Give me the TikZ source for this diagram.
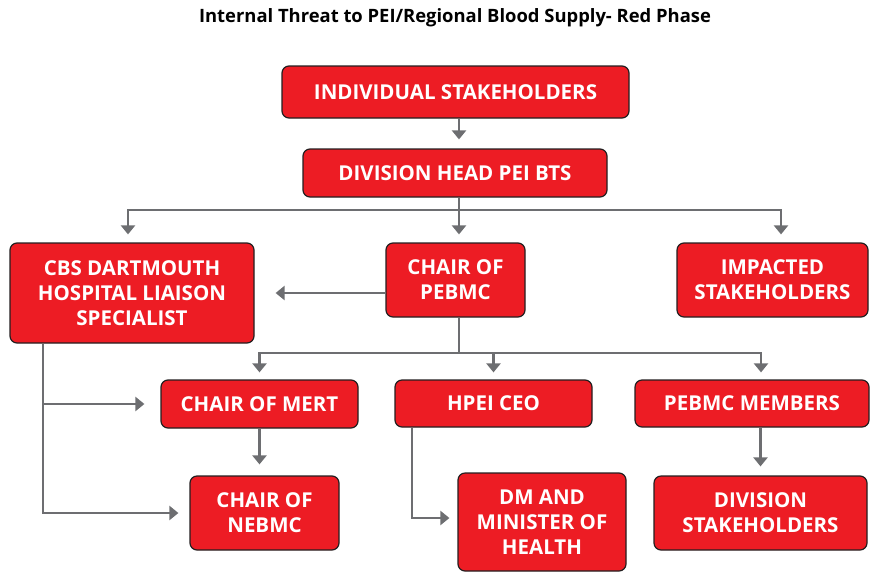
\documentclass[tikz,border=0pt]{standalone}
\usepackage{fontspec}
\setmainfont{Open Sans}
\usetikzlibrary{arrows.meta}

\definecolor{boxred}{HTML}{ED1C24}
\definecolor{boxline}{HTML}{231F20}
\definecolor{linkgray}{HTML}{6D6E71}

\tikzset{
	box/.style={draw=boxline, fill=boxred, line width=1.2pt, rounded corners=7pt,
		text=white, font=\bfseries\fontsize{20.5}{25}\selectfont, align=center, inner sep=0pt},
	link/.style={color=linkgray, line width=2.8pt, -{Triangle[width=14pt,length=9pt]}, shorten >=8pt}
}

\begin{document}
\begin{tikzpicture}[x=1pt,y=-1pt]
				\useasboundingbox (0,0) rectangle (874,573);
				\node[font=\bfseries\fontsize{18.4}{22}\selectfont] (title) at (455,18)
					{Internal Threat to PEI/Regional Blood Supply- Red Phase};

				% boxes
				\node[box, minimum width=347pt, minimum height=52pt] (ind) at (455.5,92) {INDIVIDUAL STAKEHOLDERS};
				\node[box, minimum width=304pt, minimum height=48pt] (head) at (455,173) {DIVISION HEAD PEI BTS};
				\node[box, minimum width=244pt, minimum height=100pt] (cbs) at (132,293) {CBS DARTMOUTH\\HOSPITAL LIAISON\\SPECIALIST};
				\node[box, minimum width=139pt, minimum height=74pt] (pebmc) at (455.5,280) {CHAIR OF\\PEBMC};
				\node[box, minimum width=191pt, minimum height=74pt] (imp) at (772.5,280) {IMPACTED\\STAKEHOLDERS};
				\node[box, minimum width=197pt, minimum height=48pt] (mert) at (259.5,404) {CHAIR OF MERT};
				\node[box, minimum width=197pt, minimum height=47pt] (hpei) at (493.5,403.5) {HPEI CEO};
				\node[box, minimum width=234pt, minimum height=47pt] (memb) at (752,403.5) {PEBMC MEMBERS};
				\node[box, minimum width=149pt, minimum height=74pt] (nebmc) at (264.5,513) {CHAIR OF\\NEBMC};
				\node[box, minimum width=168pt, minimum height=98pt] (dm) at (542,522) {DM AND\\MINISTER OF\\HEALTH};
				\node[box, minimum width=213pt, minimum height=74pt] (div) at (760.5,513) {DIVISION\\STAKEHOLDERS};

				% bend points
				\coordinate (spine) at (459,210);
				\coordinate (fanL) at (128,210);
				\coordinate (fanR) at (781,210);
				\coordinate (split) at (459,353);
				\coordinate (fanR2) at (761,353);
				\coordinate (cbsfoot) at (43,513);
				\coordinate (hpeifoot) at (412,518);

				% connectors
				\path[link]
				(ind.south -| spine) edge[shorten >=9pt] (head.north -| spine)
				(mert.south) edge[shorten >=11pt] (mert.south |- nebmc.north)
				(div |- memb.south) edge[shorten >=9pt] (div.north)
				(pebmc.west |- cbs) edge[shorten >=21pt] (cbs.east)
				(cbsfoot |- mert) edge[shorten >=16pt] (mert.west);
				\draw[link] (head.south -| spine) -- (spine |- pebmc.north);
				\draw[link] (spine) -| (fanL |- cbs.north);
				\draw[link] (spine) -| (fanR |- imp.north);
				\draw[link, shorten >=7pt] (pebmc.south -| split) -- (split) -| (mert.north);
				\draw[link, shorten >=7pt] (split) -| (hpei.north);
				\draw[link, shorten >=7pt] (split) -| (fanR2 |- memb.north);
				\draw[link, shorten >=11pt] (cbs.south -| cbsfoot) |- (nebmc.west);
				\draw[link] (hpei.south -| hpeifoot) |- (hpeifoot -| dm.west);
			\end{tikzpicture}
\end{document}
